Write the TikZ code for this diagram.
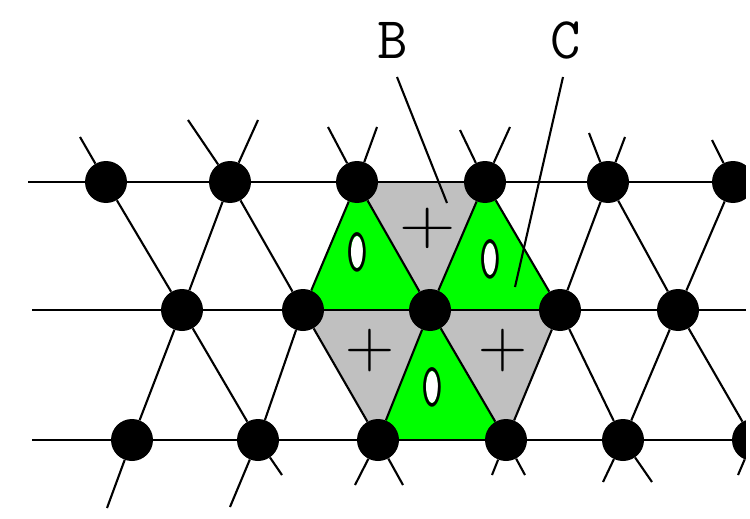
\documentclass[tikz,border=0pt]{standalone}
\usepackage{fontspec}
\usetikzlibrary{shapes.geometric}
\pgfdeclarelayer{bg}
\pgfsetlayers{bg,main}
\definecolor{grn}{RGB}{0,255,0}
\definecolor{gry}{RGB}{192,192,192}
\begin{document}
\begin{tikzpicture}[x=1pt,y=-1pt,
  dot/.style={circle,fill=black,minimum size=42pt,inner sep=0pt},
  lat/.style={line width=2.1pt},
  lead/.style={line width=2.1pt},
  lbl/.style={font=\ttfamily\fontsize{59}{59}\selectfont,inner sep=0pt},
  zhole/.style={ellipse,fill=white,minimum width=12pt,minimum height=32pt,inner sep=0pt},
  zero/.style={font=\ttfamily\fontsize{59}{59}\selectfont,inner sep=0pt,xscale=0.72,yscale=1.06},
  plus/.style={font=\fontsize{68}{68}\selectfont,inner sep=0pt}]
\useasboundingbox (0,0) rectangle (750,519);
% dots
\node[dot] (T1) at (106,182) {};
\node[dot] (T2) at (230,182) {};
\node[dot] (T3) at (357,182) {};
\node[dot] (T4) at (485,182) {};
\node[dot] (T5) at (608,182) {};
\node[dot] (T6) at (733,182) {};
\node[dot] (M1) at (182,310) {};
\node[dot] (M2) at (303,310) {};
\node[dot] (M3) at (430,310) {};
\node[dot] (M4) at (560,310) {};
\node[dot] (M5) at (678,310) {};
\node[dot] (B1) at (132,440) {};
\node[dot] (B2) at (258,440) {};
\node[dot] (B3) at (378,440) {};
\node[dot] (B4) at (506,440) {};
\node[dot] (B5) at (623,440) {};
\node[dot] (B6) at (753,440) {};
% line ends
\coordinate (tl) at (28,182);   \coordinate (tr) at (746,182);
\coordinate (ml) at (32,310);   \coordinate (mr) at (746,310);
\coordinate (bl) at (32,440);   \coordinate (br) at (746,440);
\coordinate (u1a) at (80,137);
\coordinate (u2a) at (188,120); \coordinate (u2b) at (258,120);
\coordinate (u3a) at (328,127); \coordinate (u3b) at (377,127);
\coordinate (u4a) at (460,130); \coordinate (u4b) at (510,127);
\coordinate (u5a) at (589,133); \coordinate (u5b) at (625,137);
\coordinate (u6a) at (712,140);
\coordinate (d1a) at (107,508);
\coordinate (d2a) at (230,507); \coordinate (d2b) at (282,475);
\coordinate (d3a) at (355,485); \coordinate (d3b) at (403,485);
\coordinate (d4a) at (492,475); \coordinate (d4b) at (525,475);
\coordinate (d5a) at (603,482); \coordinate (d5b) at (652,482);
\coordinate (d6a) at (738,475);
\begin{pgfonlayer}{bg}
  % coloured triangles
  \fill[grn] (T3.center) -- (M2.center) -- (M3.center) -- cycle;
  \fill[gry] (T3.center) -- (T4.center) -- (M3.center) -- cycle;
  \fill[grn] (T4.center) -- (M3.center) -- (M4.center) -- cycle;
  \fill[gry] (M2.center) -- (M3.center) -- (B3.center) -- cycle;
  \fill[grn] (M3.center) -- (B3.center) -- (B4.center) -- cycle;
  \fill[gry] (M3.center) -- (M4.center) -- (B4.center) -- cycle;
  % horizontal lines
  \draw[lat] (tl) -- (T1) -- (T2) -- (T3) -- (T4) -- (T5) -- (T6) -- (tr);
  \draw[lat] (ml) -- (M1) -- (M2) -- (M3) -- (M4) -- (M5) -- (mr);
  \draw[lat] (bl) -- (B1) -- (B2) -- (B3) -- (B4) -- (B5) -- (B6);
  % top to middle
  \draw[lat] (T1) -- (M1); \draw[lat] (T2) -- (M1);
  \draw[lat] (T2) -- (M2); \draw[lat] (T3) -- (M2);
  \draw[lat] (T3) -- (M3); \draw[lat] (T4) -- (M3);
  \draw[lat] (T4) -- (M4); \draw[lat] (T5) -- (M4);
  \draw[lat] (T5) -- (M5); \draw[lat] (T6) -- (M5);
  % middle to bottom
  \draw[lat] (M1) -- (B1); \draw[lat] (M1) -- (B2);
  \draw[lat] (M2) -- (B2); \draw[lat] (M2) -- (B3);
  \draw[lat] (M3) -- (B3); \draw[lat] (M3) -- (B4);
  \draw[lat] (M4) -- (B4); \draw[lat] (M4) -- (B5);
  \draw[lat] (M5) -- (B5); \draw[lat] (M5) -- (B6);
  % stubs
  \draw[lat] (T1) -- (u1a);
  \draw[lat] (T2) -- (u2a); \draw[lat] (T2) -- (u2b);
  \draw[lat] (T3) -- (u3a); \draw[lat] (T3) -- (u3b);
  \draw[lat] (T4) -- (u4a); \draw[lat] (T4) -- (u4b);
  \draw[lat] (T5) -- (u5a); \draw[lat] (T5) -- (u5b);
  \draw[lat] (T6) -- (u6a);
  \draw[lat] (B1) -- (d1a);
  \draw[lat] (B2) -- (d2a); \draw[lat] (B2) -- (d2b);
  \draw[lat] (B3) -- (d3a); \draw[lat] (B3) -- (d3b);
  \draw[lat] (B4) -- (d4a); \draw[lat] (B4) -- (d4b);
  \draw[lat] (B5) -- (d5a); \draw[lat] (B5) -- (d5b);
  \draw[lat] (B6) -- (d6a);
\end{pgfonlayer}
% charge marks
\node[zhole] (h1) at (357,252) {};
\node[zero] (z1) at (357,252) {0};
\node[zhole] (h2) at (490,259) {};
\node[zero] (z2) at (490,259) {0};
\node[zhole] (h3) at (432,387) {};
\node[zero] (z3) at (432,387) {0};
\node[plus,xscale=1.15,yscale=0.95] (p1) at (428,228) {+};
\node[plus] (p2) at (370,351) {+};
\node[plus] (p3) at (503,351) {+};
% labels and leaders
\node[lbl] (lB) at (393,40) {B};
\node[lbl] (lC) at (566,40) {C};
\coordinate (bA) at (397,77); \coordinate (bZ) at (447,203);
\coordinate (cA) at (563,77); \coordinate (cZ) at (515,287);
\draw[lead] (bA) -- (bZ);
\draw[lead] (cA) -- (cZ);
% right edge of the picture
\fill[white] (746,0) rectangle (750,519);
\end{tikzpicture}
\end{document}
